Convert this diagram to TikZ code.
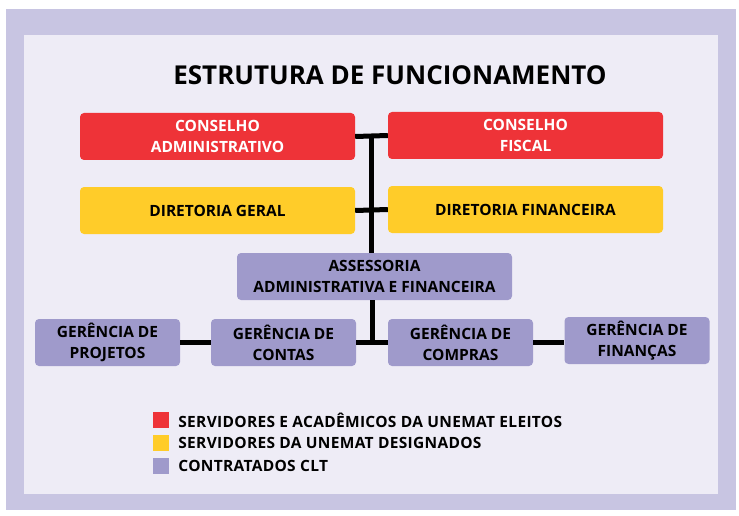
\documentclass[tikz,border=0pt]{standalone}
\usepackage{fontspec}
\setmainfont{Open Sans}
\newfontfamily\keyfont[LetterSpace=2]{Open Sans}
\usetikzlibrary{calc}
\definecolor{eleito}{HTML}{EE3338}
\definecolor{designado}{HTML}{FFCC29}
\definecolor{clt}{HTML}{9F9ACB}
\definecolor{frame-out}{HTML}{C8C5E2}
\definecolor{frame-in}{HTML}{EEECF6}
\tikzstyle{top-box} = [rectangle, rounded corners=4pt, minimum width=275pt, minimum height=47pt, text centered, align=center, font=\bfseries\fontsize{15.5}{21}\selectfont]
\tikzstyle{ger-box} = [rectangle, rounded corners=4pt, minimum width=145pt, minimum height=47pt, text centered, align=center, fill=clt, font=\bfseries\fontsize{15.5}{21}\selectfont]
\tikzstyle{key} = [rectangle, minimum width=16pt, minimum height=16pt, inner sep=0pt]
\tikzstyle{key-text} = [anchor=west, inner sep=0pt, font=\keyfont\bfseries\fontsize{15.5}{16}\selectfont]
\tikzstyle{link} = [line width=5pt]

\begin{document}
\begin{tikzpicture}[x=1pt, y=-1pt, node distance=23pt]

% frame
\fill[white] (0,0) rectangle (739,516);
\fill[frame-out] (6,9) rectangle (736,510);
\fill[frame-in] (24,35) rectangle (718,494);

\node (title) at (390,75) {\bfseries\fontsize{26}{30}\selectfont ESTRUTURA DE FUNCIONAMENTO};

% conselhos and diretorias
\node (c-adm) [top-box, fill=eleito, text=white] at (217.5,136.5) {CONSELHO\\ADMINISTRATIVO};
\node (c-fis) [top-box, fill=eleito, text=white] at (525.5,135.5) {CONSELHO\\FISCAL};
\node (d-ger) [top-box, fill=designado] at (217.5,210.5) {DIRETORIA GERAL};
\node (d-fin) [top-box, fill=designado] at (525.5,209.5) {DIRETORIA FINANCEIRA};
\node (asse) [top-box, fill=clt] at (374.5,276.5) {ASSESSORIA\\ADMINISTRATIVA E FINANCEIRA};

% gerencias
\node (g-pro) [ger-box] at (107.5,342.5) {GERÊNCIA DE\\PROJETOS};
\node (g-con) [ger-box] at (283.5,342.5) {GERÊNCIA DE\\CONTAS};
\node (g-com) [ger-box] at (460.5,342.5) {GERÊNCIA DE\\COMPRAS};
\node (g-fin) [ger-box] at (637,340.5) {GERÊNCIA DE\\FINANÇAS};

\coordinate (trunk-top) at ($(c-adm.east)!0.5!(c-fis.west)$);
\coordinate (trunk-low) at ($(g-con.east)!0.5!(g-com.west)$);

\draw [link] (c-adm.east) -- (c-fis.west);
\draw [link] (d-ger.east) -- (d-fin.west);
\draw [link] (trunk-top) -- (trunk-top |- asse.north);
\draw [link] (trunk-low |- asse.south) -- (trunk-low);
\draw [link] (g-con.east) -- (g-com.west);
\draw [link] (g-pro.east) -- (g-con.west);
\draw [link] (g-com.east) -- (g-fin.west |- g-com.east);

% legenda
\node (key-red) [key, fill=eleito] at (161,420) {};
\node (key-yel) [key, fill=designado, below of=key-red] {};
\node (key-clt) [key, fill=clt, below of=key-yel] {};
\node (txt-red) [key-text] at ($(key-red.east)+(9,0)$) {SERVIDORES E ACADÊMICOS DA UNEMAT ELEITOS};
\node (txt-yel) [key-text] at ($(key-yel.east)+(9,0)$) {SERVIDORES DA UNEMAT DESIGNADOS};
\node (txt-clt) [key-text] at ($(key-clt.east)+(9,0)$) {CONTRATADOS CLT};

\end{tikzpicture}
\end{document}
